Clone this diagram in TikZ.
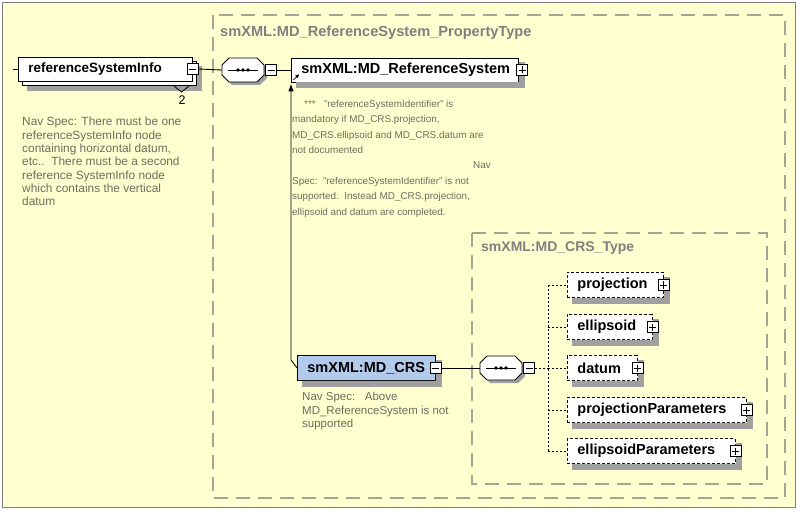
\documentclass[tikz,border=0pt]{standalone}
\usepackage{fontspec}
\setmainfont{Liberation Sans}
\usetikzlibrary{arrows.meta}
\definecolor{bgyel}{RGB}{255,255,208}
\definecolor{framegray}{RGB}{165,165,150}
\definecolor{notegray}{RGB}{110,110,95}
\definecolor{crsblue}{RGB}{178,202,236}
\definecolor{ttlgray}{RGB}{128,128,128}
\definecolor{boxshadow}{RGB}{160,160,160}
\newcommand\lblfont{\fontsize{14.5bp}{16bp}\selectfont\bfseries}
\newcommand\lblfontsm{\fontsize{13.5bp}{15bp}\selectfont\bfseries}
\newcommand\notefont{\fontsize{11.9bp}{13.3bp}\selectfont}
\newcommand\notefontb{\fontsize{9.9bp}{15.4bp}\selectfont}
\newcommand\notefontc{\fontsize{11.5bp}{13.7bp}\selectfont}
% L-shaped shadow right of and below a node, drawn as a closed polygon
\newcommand\shadowof[1]{%
  \path[fill=boxshadow, draw=boxshadow, line width=0.5bp]
    ([yshift=-5bp]#1.north east) -- ([xshift=5bp,yshift=-5bp]#1.north east)
    -- ([xshift=5bp,yshift=-5bp]#1.south east) -- ([xshift=5bp,yshift=-5bp]#1.south west)
    -- ([xshift=5bp]#1.south west) -- (#1.south east) -- cycle;}
\newcommand\seqsym[3]{%
  \begin{scope}[shift={(#2,#3)}]
    \path[fill=boxshadow] (-11,-9) -- (17,-9) -- (24,-2) -- (24,8) -- (17,15) -- (-11,15) -- (-18,8) -- (-18,-2) -- cycle;
    \draw[fill=white, line width=0.8bp] (-14,-12) -- (14,-12) -- (21,-5) -- (21,5) -- (14,12) -- (-14,12) -- (-21,5) -- (-21,-5) -- cycle;
    \draw[line width=0.9bp] (-15,0) -- (15,0);
    \fill (-5,0) circle (1.9) (0,0) circle (1.9) (5,0) circle (1.9);
  \end{scope}
  \node[minimum width=42bp, minimum height=24bp, inner sep=0] (#1) at (#2,#3) {};}
\tikzset{
  elem/.style={draw, fill=white, line width=0.8bp, minimum height=25bp, inner xsep=10bp, inner ysep=0,
    align=left, anchor=west, font=\lblfont},
  optel/.style={elem, dash pattern=on 3bp off 2bp},
  pm/.style={draw, fill=white, line width=0.7bp, minimum size=11bp, inner sep=0},
  minusbox/.style={pm, path picture={\draw[line width=0.8bp] ([xshift=2bp]path picture bounding box.west) -- ([xshift=-2bp]path picture bounding box.east);}},
  plusbox/.style={pm, path picture={\draw[line width=0.8bp] ([xshift=2bp]path picture bounding box.west) -- ([xshift=-2bp]path picture bounding box.east) ([yshift=-2bp]path picture bounding box.north) -- ([yshift=2bp]path picture bounding box.south);}},
  conn/.style={line width=0.9bp},
  dotline/.style={line width=0.9bp, dash pattern=on 2bp off 2bp},
  frameline/.style={draw=framegray, line width=1.3bp, dash pattern=on 14bp off 8bp},
  ttl/.style={text=ttlgray, inner sep=0, anchor=west},
  note/.style={text=notegray, align=left, inner sep=0, anchor=north west}
}
\begin{document}
\begin{tikzpicture}[x=1bp,y=-1bp]
\useasboundingbox (0,0) rectangle (800,520);
\fill[white] (0,0) rectangle (800,520);
\draw[gray, line width=1bp, fill=bgyel] (2.5,2.5) rectangle (795.5,507.5);

% frames
\draw[frameline] (213,15) rectangle (785,498);
\draw[frameline] (472,233) rectangle (767,484);
\node[ttl, font=\fontsize{14.6bp}{16bp}\selectfont\bfseries] (t1) at (220,33) {smXML:MD\_ReferenceSystem\_PropertyType};
\node[ttl, font=\fontsize{14bp}{16bp}\selectfont\bfseries] (t2) at (481,248) {smXML:MD\_CRS\_Type};

% referenceSystemInfo (multiple): shadow, back copy, front box
\path[fill=boxshadow, draw=boxshadow] (27,66) -- (201,66) -- (201,90) -- (27,90) -- cycle;
\draw[fill=white, line width=0.8bp] (22,61) -- (196,61) -- (196,85) -- (22,85) -- cycle;
\node[elem, font=\lblfontsm, minimum height=24bp, text width=154bp] (rsi) at (18,69) {referenceSystemInfo};
\node[minusbox] (rsim) at (rsi.east) {};
\draw[line width=0.8bp] (174,86) -- (181.5,92) -- (189,86);
\node[inner sep=0, font=\fontsize{12.5bp}{14bp}\selectfont] (mult) at (182,100) {2};
\coordinate (lin) at (13,69);
\draw[conn] (lin) -- (rsi.west);

% first sequence
\seqsym{s1}{243}{70}
\node[minusbox] (s1m) at (271,70) {};
\draw[conn] (rsim.east) -- (s1.west);

\node[elem, minimum height=24bp, text width=207bp] (refsys) at (291,70) {smXML:MD\_ReferenceSystem};
\shadowof{refsys}
\node[plusbox] (refsysp) at (522,70) {};
\draw[conn] (s1m.east) -- (refsys.west);
\draw[line width=0.8bp, -{Triangle[length=3.5bp,width=3.5bp]}] ([xshift=2.5bp,yshift=2.5bp]refsys.south west) -- ++(5.5,-5.5);

% note middle
\node[note, font=\notefontb] (n2) at (292,100) {\hspace*{12bp}***\ \ \ "referenceSystemIdentifier" is\\mandatory if MD\_CRS.projection,\\MD\_CRS.ellipsoid and MD\_CRS.datum are\\not documented\\\hspace*{181bp}Nav\\Spec:\ \ "referenceSystemIdentifier" is not\\supported.\ \ Instead MD\_CRS.projection,\\ellipsoid and datum are completed.};

% left note
\node[note, font=\notefont] (n1) at (22,117) {Nav Spec: There must be one\\referenceSystemInfo node\\containing horizontal datum,\\etc..\ \ There must be a second\\reference SystemInfo node\\which contains the vertical\\datum};

% MD_CRS
\node[elem, fill=crsblue, text width=118bp] (crs) at (297,368) {smXML:MD\_CRS};
\shadowof{crs}
\node[minusbox] (crsm) at (crs.east) {};
\draw[conn, -{Triangle[length=7bp,width=5bp]}] (crs.west) -- ++(-6,-8) -- ([yshift=-2bp]refsys.south west);
\node[note, font=\notefontc] (n3) at (302,392) {Nav Spec:\ \ \ Above\\MD\_ReferenceSystem is not\\supported};

% second sequence
\seqsym{s2}{501}{368}
\node[minusbox] (s2m) at (529,368) {};
\draw[conn] (crsm.east) -- (s2.west);
\coordinate (br) at (548,368);
\draw[dotline] (s2m.east) -- (br);

% children
\node[optel, text width=76bp] (proj) at (567,285) {projection};
\shadowof{proj}
\node[plusbox] (projp) at (proj.east) {};
\node[optel, text width=65bp] (ellp) at (567,327) {ellipsoid};
\shadowof{ellp}
\node[plusbox] (ellpp) at (ellp.east) {};
\node[optel, text width=50bp] (dat) at (567,368) {datum};
\shadowof{dat}
\node[plusbox] (datp) at (dat.east) {};
\node[optel, text width=159bp] (pp) at (567,410) {projectionParameters};
\shadowof{pp}
\node[plusbox] (ppp) at (pp.east) {};
\node[optel, text width=148bp] (ep) at (567,451) {ellipsoidParameters};
\shadowof{ep}
\node[plusbox] (epp) at (ep.east) {};

\draw[dotline] (proj.west -| br) -- (ep.west -| br);
\foreach \c in {proj,ellp,dat,pp,ep}{\draw[dotline] (\c.west -| br) -- (\c.west);}
\end{tikzpicture}
\end{document}
